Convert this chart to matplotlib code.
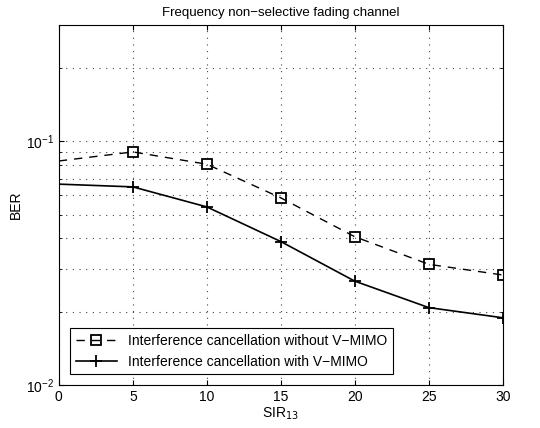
import numpy as np
import matplotlib.pyplot as plt

sir = np.array([0, 5, 10, 15, 20, 25, 30])
ber_without = np.array([0.083, 0.0904, 0.0805, 0.0586, 0.0406, 0.0313, 0.0283])
ber_with = np.array([0.0667, 0.065, 0.0538, 0.0388, 0.0267, 0.0208, 0.0189])

plt.rcParams['font.family'] = ['Liberation Sans', 'DejaVu Sans']

fig = plt.figure(figsize=(5.4, 4.28), dpi=100)
ax = fig.add_axes([0.109, 0.100, 0.822, 0.842])

#Dashed curve with square markers
ax.semilogy(sir, ber_without, 'k--', marker='s', markersize=7, markerfacecolor='none',
            markeredgewidth=1.3, markevery=range(1, 7), dashes=(6, 5), lw=1,
            label="Interference cancellation without V\u2212MIMO")

#Solid curve with plus markers
ax.semilogy(sir, ber_with, 'k-', marker='+', markersize=9, markeredgewidth=1.3,
            markevery=range(1, 7), lw=1.2,
            label="Interference cancellation with V\u2212MIMO")

ax.set_xlim(0, 30)
ax.set_ylim(0.01, 0.3)
ax.set_xticks(np.arange(0, 31, 5))
grid_style = dict(linestyle=(0, (1, 5)), color='#444444', lw=0.8)
ax.grid(True, which='major', **grid_style)
ax.grid(True, which='minor', axis='y', **grid_style)
ax.tick_params(which='both', direction='in', top=True, right=True, labelsize=10)

ax.set_title("Frequency non\u2212selective fading channel", fontsize=9.5)
ax.set_xlabel("SIR$_{13}$", fontsize=10, labelpad=1)
ax.set_ylabel("BER", fontsize=10)
ax.yaxis.set_label_coords(-0.08, 0.5)

leg = ax.legend(loc='lower left', fontsize=10, fancybox=False, framealpha=1,
                edgecolor='k', handlelength=3, borderaxespad=0.8)
leg.get_frame().set_linewidth(0.8)

plt.savefig("out.png", dpi=100)
